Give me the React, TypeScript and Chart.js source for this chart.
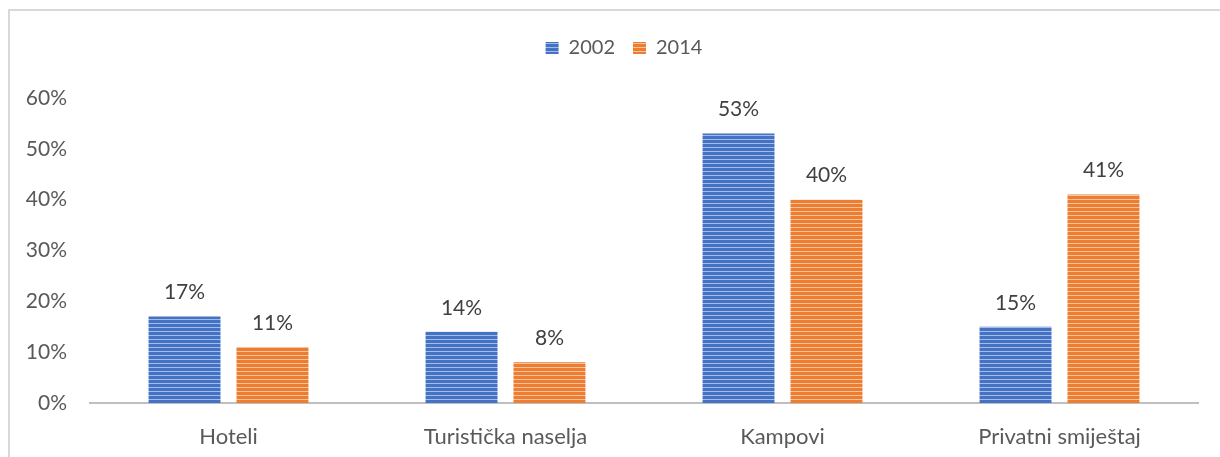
import React, { useEffect, useRef } from "react";
import { Chart, registerables } from "chart.js";

Chart.register(...registerables);

const categories = ["Hoteli", "Turistička naselja", "Kampovi", "Privatni smiještaj"];
const seriesNames = ["2002", "2014"];
const values2002 = [0.17, 0.14, 0.53, 0.15];
const values2014 = [0.11, 0.08, 0.4, 0.41];
const yTicks = [0, 0.1, 0.2, 0.3, 0.4, 0.5, 0.6];

const FONT = "Lato, 'Open Sans', sans-serif";

function makeStripe(base: string, light: string): CanvasPattern | string {
  const c = document.createElement("canvas");
  c.width = 4;
  c.height = 4;
  const g = c.getContext("2d");
  if (!g) return base;
  g.fillStyle = base;
  g.fillRect(0, 0, 4, 4);
  g.fillStyle = light;
  g.fillRect(0, 3, 4, 1);
  const p = g.createPattern(c, "repeat");
  return p || base;
}

const dataLabels = {
  id: "dataLabels",
  afterDatasetsDraw(chart: any) {
    const ctx = chart.ctx;
    ctx.save();
    ctx.font = `21px ${FONT}`;
    ctx.fillStyle = "#404040";
    ctx.textAlign = "center";
    ctx.textBaseline = "middle";
    chart.data.datasets.forEach((ds: any, i: number) => {
      const meta = chart.getDatasetMeta(i);
      meta.data.forEach((el: any, j: number) => {
        const v = ds.data[j];
        ctx.fillText(Math.round(v * 100) + "%", el.x, el.y - 24);
      });
    });
    ctx.restore();
  },
};

const legendSpacer = {
  id: "legendSpacer",
  beforeLayout(chart: any) {
    const lg = chart.legend;
    if (lg && !lg.__patched) {
      const orig = lg.fit;
      lg.fit = function () {
        orig.call(this);
        this.height += 30;
      };
      lg.__patched = true;
    }
  },
  afterLayout(chart: any) {
    const lg = chart.legend;
    if (lg) {
      lg.left += 25;
      lg.right += 25;
    }
  },
};

export default function App() {
  const ref = useRef<HTMLCanvasElement>(null);
  useEffect(() => {
    if (!ref.current) return;
    const blue = makeStripe("#4472C4", "#A4BBE6");
    const orange = makeStripe("#ED7D31", "#F8C29C");
    const chart = new Chart(ref.current, {
      type: "bar",
      data: {
        labels: categories,
        datasets: [
          {
            label: seriesNames[0],
            data: values2002,
            backgroundColor: blue as any,
            borderWidth: 0,
            categoryPercentage: 0.635,
            barPercentage: 0.818,
          },
          {
            label: seriesNames[1],
            data: values2014,
            backgroundColor: orange as any,
            borderWidth: 0,
            categoryPercentage: 0.635,
            barPercentage: 0.818,
          },
        ],
      },
      options: {
        animation: false,
        responsive: false,
        maintainAspectRatio: false,
        layout: { padding: { top: 20, right: 22, left: 0, bottom: 0 } },
        plugins: {
          legend: {
            position: "top",
            labels: {
              boxWidth: 13,
              boxHeight: 12,
              padding: 18,
              color: "#595959",
              font: { family: FONT, size: 20 },
            },
          },
          tooltip: { enabled: false },
        },
        scales: {
          x: {
            grid: { display: false, drawTicks: false },
            border: { display: true, color: "#BFBFBF", width: 2 },
            ticks: {
              color: "#595959",
              padding: 21,
              font: { family: FONT, size: 22 },
            },
            afterFit(scale: any) {
              scale.height = 54;
            },
          },
          y: {
            min: 0,
            max: 0.6,
            grid: { display: false, drawTicks: false },
            border: { display: false },
            afterBuildTicks(scale: any) {
              scale.ticks = yTicks.map((v) => ({ value: v }));
            },
            ticks: {
              color: "#595959",
              padding: 23,
              font: { family: FONT, size: 21 },
              callback: (v: any) => Math.round(Number(v) * 100) + "%",
            },
            afterFit(scale: any) {
              scale.width = 90;
            },
          },
        },
      },
      plugins: [dataLabels, legendSpacer],
    });
    return () => chart.destroy();
  }, []);

  return (
    <>
      <div
        style={{
          position: "absolute",
          left: 8,
          top: 9,
          width: 1212,
          height: 448,
          borderTop: "2px solid #D9D9D9",
          borderLeft: "2px solid #D9D9D9",
        }}
      />
      <div style={{ position: "absolute", left: 0, top: 0, width: 1220, height: 457 }}>
        <canvas ref={ref} width={1220} height={457} style={{ display: "block" }} />
      </div>
    </>
  );
}
